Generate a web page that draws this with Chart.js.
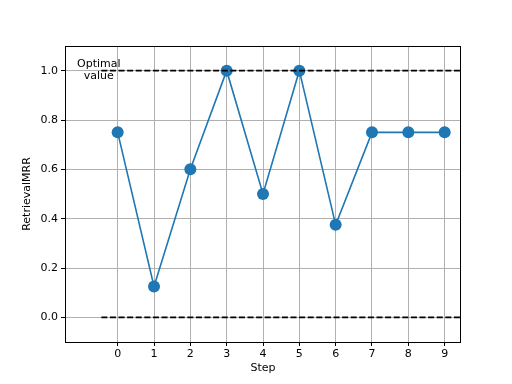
<!DOCTYPE html>
<html>
<head>
<meta charset="utf-8">
<script src="https://cdn.jsdelivr.net/npm/chart.js@4/dist/chart.umd.min.js"></script>
<style>
html,body{margin:0;padding:0;background:#fff;}
#wrap{width:512px;height:384px;}
</style>
</head>
<body>
<div id="wrap"><canvas id="c" width="512" height="384"></canvas></div>
<script>
const steps = [0, 1, 2, 3, 4, 5, 6, 7, 8, 9];
const retrievalMRR = [0.75, 0.125, 0.6, 1.0, 0.5, 1.0, 0.375, 0.75, 0.75, 0.75];
const referenceLevels = [1.0, 0.0];
const referenceSpan = [-0.45, 9.6];
const xTicks = [0, 1, 2, 3, 4, 5, 6, 7, 8, 9];
const yTicks = [0.0, 0.2, 0.4, 0.6, 0.8, 1.0];
const annotationText = ['Optimal', 'value'];
const annotationPos = [-0.52, 1.0];

const FONT = 'DejaVu Sans';

const refDatasets = referenceLevels.map(v => ({
  data: referenceSpan.map(x => ({x: x, y: v})),
  showLine: true,
  borderColor: '#000000',
  borderWidth: 1.6,
  borderDash: [6, 2.6],
  pointRadius: 0,
  pointHoverRadius: 0,
  fill: false,
  clip: 0
}));

const mainDataset = {
  data: steps.map((s, i) => ({x: s, y: retrievalMRR[i]})),
  showLine: true,
  borderColor: '#1f77b4',
  borderWidth: 1.6,
  backgroundColor: '#1f77b4',
  pointBackgroundColor: '#1f77b4',
  pointBorderColor: '#1f77b4',
  pointRadius: 6,
  pointBorderWidth: 0,
  pointHoverRadius: 6,
  fill: false,
  clip: false
};

const framePlugin = {
  id: 'frame',
  afterDraw(chart) {
    const {ctx, chartArea: a, scales} = chart;
    ctx.save();
    ctx.strokeStyle = '#000';
    ctx.lineWidth = 1;
    ctx.strokeRect(Math.round(a.left) + 0.5, Math.round(a.top) + 0.5,
      Math.round(a.right - a.left) - 1, Math.round(a.bottom - a.top));
    // annotation
    ctx.fillStyle = '#000';
    ctx.font = '11px "' + FONT + '"';
    ctx.textAlign = 'center';
    ctx.textBaseline = 'middle';
    const px = scales.x.getPixelForValue(annotationPos[0]);
    const py = scales.y.getPixelForValue(annotationPos[1]);
    ctx.fillText(annotationText[0], px, py - 6.5);
    ctx.fillText(annotationText[1], px, py + 5.5);
    ctx.restore();
  }
};

new Chart(document.getElementById('c'), {
  type: 'scatter',
  data: { datasets: [...refDatasets, mainDataset] },
  options: {
    responsive: false,
    animation: false,
    devicePixelRatio: 1,
    layout: { padding: { top: 46, right: 51, left: 0, bottom: 0 } },
    plugins: { legend: { display: false }, tooltip: { enabled: false } },
    scales: {
      x: {
        type: 'linear',
        min: -1.45,
        max: 9.45,
        afterBuildTicks: s => { s.ticks = xTicks.map(v => ({value: v})); },
        afterFit: s => { s.height = 42; },
        ticks: {
          color: '#000',
          font: { family: FONT, size: 11 },
          padding: 2,
          maxRotation: 0,
          autoSkip: false,
          callback: v => String(v)
        },
        grid: { color: '#b0b0b0', lineWidth: 1, tickColor: '#000', tickLength: 4, drawTicks: true },
        border: { display: false },
        title: { display: true, text: 'Step', color: '#000', font: { family: FONT, size: 11 }, padding: { top: 0, bottom: 9 } }
      },
      y: {
        type: 'linear',
        min: -0.1,
        max: 1.1,
        afterBuildTicks: s => { s.ticks = yTicks.map(v => ({value: v})); },
        afterFit: s => { s.width = 65; },
        ticks: {
          color: '#000',
          font: { family: FONT, size: 11 },
          padding: 3,
          autoSkip: false,
          callback: v => Number(v).toFixed(1)
        },
        grid: { color: '#b0b0b0', lineWidth: 1, tickColor: '#000', tickLength: 4, drawTicks: true },
        border: { display: false },
        title: { display: true, text: 'RetrievalMRR', color: '#000', font: { family: FONT, size: 11 }, padding: { top: 21, bottom: 0 } }
      }
    }
  },
  plugins: [framePlugin]
});
</script>
</body>
</html>
